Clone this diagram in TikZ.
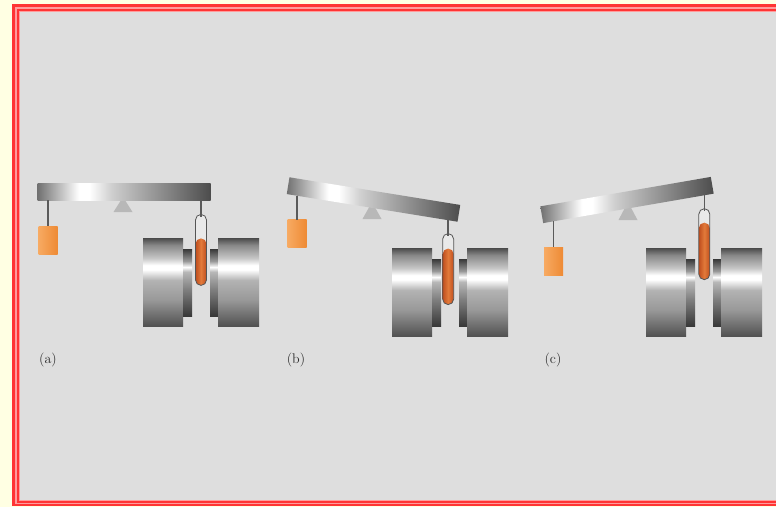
\documentclass[tikz,border=0pt]{standalone}
\usetikzlibrary{positioning}
\definecolor{paper}{HTML}{FFFFE3}
\definecolor{rim}{HTML}{FF3434}
\definecolor{rimpale}{HTML}{FF9C9C}
\definecolor{panelgray}{HTML}{DEDEDE}
\definecolor{pivotgray}{HTML}{B8B8B8}
\definecolor{cordgray}{HTML}{5A5A5A}
\definecolor{wtlight}{HTML}{F7AA62}
\definecolor{wtmain}{HTML}{EE8A34}
\definecolor{glass}{HTML}{E9E9E9}
\definecolor{glassedge}{HTML}{555555}
\definecolor{sampledark}{HTML}{BF4E1E}
\definecolor{samplelight}{HTML}{E27A3A}
\definecolor{labelgray}{HTML}{2A2A2A}

% beam: dark end, bright spot, step at the pivot, dark end
\pgfdeclarehorizontalshading{beamshade}{100bp}{
  color(0bp)=(black!56); color(25bp)=(black!56); color(37bp)=(white);
  color(40bp)=(white); color(46bp)=(black!18); color(48bp)=(black!22);
  color(75bp)=(black!70); color(100bp)=(black!70)}
% pole pieces, bottom to top
\pgfdeclareverticalshading{poleshade}{100bp}{
  color(0bp)=(black!68); color(25bp)=(black!68); color(40bp)=(black!40);
  color(51bp)=(black!30); color(57bp)=(white); color(59.5bp)=(white);
  color(63.5bp)=(black!22); color(71bp)=(black!47); color(75bp)=(black!71);
  color(100bp)=(black!71)}
\pgfdeclareverticalshading{capshade}{100bp}{
  color(0bp)=(black!78); color(25bp)=(black!78); color(45bp)=(black!50);
  color(58bp)=(black!28); color(61.5bp)=(white); color(66bp)=(black!40);
  color(75bp)=(black!78); color(100bp)=(black!78)}

\begin{document}
\begin{tikzpicture}[x=1pt,y=-1pt,
 beam/.style={shading=beamshade},
 pole/.style={shading=poleshade},
 polecap/.style={shading=capshade},
 pivot/.style={fill=pivotgray},
 string/.style={draw=cordgray,line width=1.4pt},
 weight/.style={rectangle,inner sep=0pt,minimum width=19pt,minimum height=28pt,
   left color=wtlight,right color=wtmain},
 tube/.style={rectangle,rounded corners=5.5pt,inner sep=0pt,minimum width=11pt,
   minimum height=71pt,draw=glassedge,line width=0.8pt,fill=glass,
   path picture={\shade[left color=sampledark,right color=sampledark,middle color=samplelight]
     ([yshift=-#1]path picture bounding box.north west) rectangle (path picture bounding box.south east);}},
 tag/.style={font=\fontsize{14}{16}\selectfont,text=labelgray}]
\useasboundingbox (0,0) rectangle (776,507);
\clip (0,0) rectangle (776,507);

% double red frame, open to the right
\fill[paper] (0,0) rectangle (776,507);
\fill[rim] (12,4) rectangle (790,506);
\fill[rimpale] (14.5,6.5) rectangle (790,503.5);
\fill[rim] (16.5,8.5) rectangle (790,502.5);
\fill[rimpale] (18.5,10.5) rectangle (790,501);
\fill[panelgray] (20,12) rectangle (790,500);

% (a) beam level
\fill[pivot] (123,197) -- (132.5,212) -- (113.5,212) -- cycle;
\begin{scope}[shift={(124,191.5)}]
  \shade[beam] (-86.5,-8.5) rectangle (86.5,8.5);
  \coordinate (hookLa) at (-76,8.5);
  \coordinate (hookRa) at (77,8.5);
\end{scope}
\begin{scope}[shift={(143,238)}]
  \shade[pole] (0,0) rectangle (40,88);
  \shade[polecap] (40,11) rectangle (49,78);
  \shade[polecap] (67,11) rectangle (75,78);
  \shade[pole] (75,0) rectangle (116,88);
\end{scope}
\node[weight, below=26pt of hookLa] (wa) {};
\node[tube=24pt, below=14pt of hookRa] (tubea) {};
\draw[string] (hookLa) -- (wa.north);
\draw[string] (hookRa) -- ([yshift=-3pt]tubea.north);
\node[tag] (capa) at (48,360) {(a)};

% (b) tube pulled down into the gap
\fill[pivot] (372,202) -- (381.5,219) -- (362.5,219) -- cycle;
\begin{scope}[shift={(373.5,199.5)},rotate=-9.2]
  \shade[beam] (-86.5,-8.5) rectangle (86.5,8.5);
  \coordinate (hookLb) at (-76,8.5);
  \coordinate (hookRb) at (77,8.5);
\end{scope}
\begin{scope}[shift={(392,248)}]
  \shade[pole] (0,0) rectangle (40,88);
  \shade[polecap] (40,11) rectangle (49,78);
  \shade[polecap] (67,11) rectangle (75,78);
  \shade[pole] (75,0) rectangle (116,88);
\end{scope}
\node[weight, below=24pt of hookLb] (wb) {};
\node[tube=15pt, below=13pt of hookRb] (tubeb) {};
\draw[string] (hookLb) -- (wb.north);
\draw[string] (hookRb) -- ([yshift=-3pt]tubeb.north);
\node[tag] (capb) at (296,360) {(b)};

% (c) tube pushed up out of the gap
\fill[pivot] (628,202) -- (637.5,220) -- (618.5,220) -- cycle;
\begin{scope}[shift={(627,200)},rotate=9.8]
  \shade[beam] (-86.5,-8.5) rectangle (86.5,8.5);
  \coordinate (hookLc) at (-76,8.5);
  \coordinate (hookRc) at (77,8.5);
\end{scope}
\begin{scope}[shift={(646,248)}]
  \shade[pole] (0,0) rectangle (40,88);
  \shade[polecap] (40,11) rectangle (49,78);
  \shade[polecap] (67,11) rectangle (75,78);
  \shade[pole] (75,0) rectangle (116,88);
\end{scope}
\node[weight, below=26pt of hookLc] (wc) {};
\node[tube=14pt, below=13pt of hookRc] (tubec) {};
\draw[string] (hookLc) -- (wc.north);
\draw[string] (hookRc) -- ([yshift=-3pt]tubec.north);
\node[tag] (capc) at (553,360) {(c)};
\end{tikzpicture}
\end{document}
